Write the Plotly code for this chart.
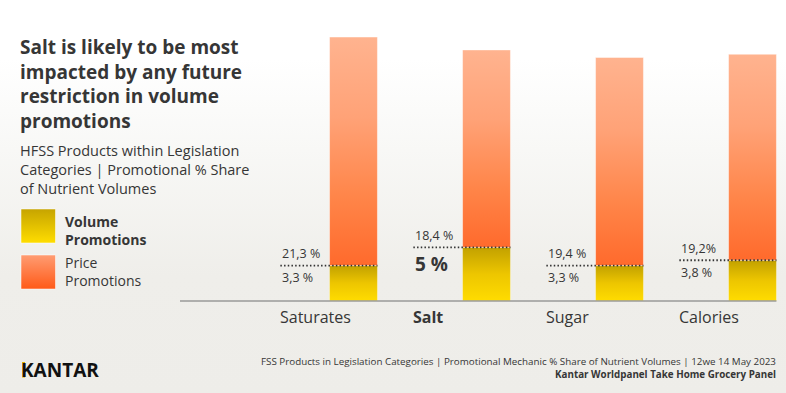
import plotly.graph_objects as go

# ---------------- data ----------------
categories = ["Saturates", "Salt", "Sugar", "Calories"]
volume_share = [3.3, 5.0, 3.3, 3.8]
price_share = [21.3, 18.4, 19.4, 19.2]
volume_labels = ["3,3 %", "5 %", "3,3 %", "3,8 %"]
price_labels = ["21,3 %", "18,4 %", "19,4 %", "19,2%"]
highlight = "Salt"

title_text = "Salt is likely to be most<br>impacted by any future<br>restriction in volume<br>promotions"
subtitle_text = "HFSS Products within Legislation<br>Categories | Promotional % Share<br>of Nutrient Volumes"
legend_names = ["Volume<br>Promotions", "Price<br>Promotions"]
source_line1 = "FSS Products in Legislation Categories | Promotional Mechanic % Share of Nutrient Volumes | 12we 14 May 2023"
source_line2 = "Kantar Worldpanel Take Home Grocery Panel"

# ---------------- layout geometry ----------------
W, H = 786, 393
FONT = "Open Sans"
TXT = "#363636"
UNIT_X = 133.0          # px per category
X0_PX = 353.5           # px of first category centre
BASE_PX = 301.0         # px of zero line
UNIT_Y = 10.73          # px per percentage point
BAR_W = 0.36

x_min = -X0_PX / UNIT_X
x_max = x_min + W / UNIT_X
y_max = BASE_PX / UNIT_Y
y_min = -(H - BASE_PX) / UNIT_Y


def px_x(p):
    return x_min + p / UNIT_X


def px_y(p):
    return (BASE_PX - p) / UNIT_Y


def pap_x(p):
    return p / W


def pap_y(p):
    return 1 - p / H


fig = go.Figure()

# background gradient (white top -> warm grey bottom)
fig.add_trace(go.Scatter(
    x=[x_min, x_max, x_max, x_min, x_min],
    y=[y_min, y_min, y_max, y_max, y_min],
    mode="none", fill="toself", hoverinfo="skip", showlegend=False,
    fillgradient=dict(type="vertical",
                      colorscale=[[0, "#EEEDE9"], [0.3, "#EFEEEA"],
                                  [0.62, "#F8F8F6"], [0.85, "#FFFFFF"], [1, "#FFFFFF"]]),
))

vol_scale = [[0, "#FFDC00"], [0.5, "#EDC600"], [1, "#C2A100"]]
price_scale = [[0, "#FF6A2C"], [0.3, "#FF8549"], [0.65, "#FFA277"], [1, "#FFB38F"]]

for i, cat in enumerate(categories):
    xl, xr = i - BAR_W / 2, i + BAR_W / 2
    v, p = volume_share[i], price_share[i]
    # volume segment
    fig.add_trace(go.Scatter(
        x=[xl, xr, xr, xl, xl], y=[0, 0, v, v, 0],
        mode="lines", line=dict(color="rgba(255,255,255,0.35)", width=1),
        fill="toself", fillgradient=dict(type="vertical", colorscale=vol_scale),
        hoverinfo="skip", showlegend=False,
    ))
    # price segment
    fig.add_trace(go.Scatter(
        x=[xl, xr, xr, xl, xl], y=[v, v, v + p, v + p, v],
        mode="lines", line=dict(color="rgba(255,255,255,0.45)", width=1),
        fill="toself", fillgradient=dict(type="vertical", colorscale=price_scale),
        hoverinfo="skip", showlegend=False,
    ))

# legend swatches drawn on the same axes (decoration)
sw_l, sw_r = px_x(21), px_x(55.5)
fig.add_trace(go.Scatter(
    x=[sw_l, sw_r, sw_r, sw_l, sw_l], y=[px_y(243), px_y(243), px_y(209), px_y(209), px_y(243)],
    mode="lines", line=dict(color="rgba(255,255,255,0.5)", width=1),
    fill="toself", fillgradient=dict(type="vertical", colorscale=[[0, "#FFDD00"], [1, "#C6A400"]]),
    hoverinfo="skip", showlegend=False))
fig.add_trace(go.Scatter(
    x=[sw_l, sw_r, sw_r, sw_l, sw_l], y=[px_y(289), px_y(289), px_y(255), px_y(255), px_y(289)],
    mode="lines", line=dict(color="rgba(255,255,255,0.5)", width=1),
    fill="toself", fillgradient=dict(type="vertical", colorscale=[[0, "#FF5A18"], [1, "#FF9C72"]]),
    hoverinfo="skip", showlegend=False))

shapes = []
# baseline
shapes.append(dict(type="line", xref="x", yref="y", x0=px_x(180), x1=len(categories) - 1 + BAR_W / 2,
                   y0=0, y1=0, line=dict(color="#9A9A98", width=1.5)))
# dotted split lines
for i in range(len(categories)):
    shapes.append(dict(type="line", xref="x", yref="y", x0=i - 0.55, x1=i + BAR_W / 2,
                       y0=volume_share[i], y1=volume_share[i],
                       line=dict(color="#333333", width=1.8, dash="1.5px,2.2px")))
# Kantar logo stem
shapes.append(dict(type="rect", xref="paper", yref="paper", layer="above",
                   x0=pap_x(22), x1=pap_x(25), y0=pap_y(377.5), y1=pap_y(362),
                   fillcolor="#E3B400", line=dict(width=0)))

ann = []
for i, cat in enumerate(categories):
    is_hl = cat == highlight
    ann.append(dict(x=i - 0.565, y=0, xref="x", yref="y", xanchor="left", yanchor="middle",
                    yshift=-16, showarrow=False,
                    text=f"<b>{cat}</b>" if is_hl else cat,
                    font=dict(family=FONT, size=16, color=TXT)))
    ann.append(dict(x=i - 0.555, y=volume_share[i], xref="x", yref="y", xanchor="left",
                    yanchor="middle", yshift=12, showarrow=False, text=price_labels[i],
                    font=dict(family=FONT, size=12.5, color=TXT)))
    ann.append(dict(x=i - 0.555, y=volume_share[i], xref="x", yref="y", xanchor="left",
                    yanchor="middle", yshift=-17 if is_hl else -12, showarrow=False,
                    text=f"<b>{volume_labels[i]}</b>" if is_hl else volume_labels[i],
                    font=dict(family=FONT, size=19 if is_hl else 12.5, color=TXT)))

ann.append(dict(x=pap_x(18), y=pap_y(84), xref="paper", yref="paper", xanchor="left", yanchor="middle",
                align="left", showarrow=False, text=f"<b>{title_text}</b>",
                font=dict(family=FONT, size=19, color=TXT)))
ann.append(dict(x=pap_x(18), y=pap_y(169.5), xref="paper", yref="paper", xanchor="left", yanchor="middle",
                align="left", showarrow=False, text=subtitle_text,
                font=dict(family=FONT, size=14.5, color=TXT)))
ann.append(dict(x=pap_x(63), y=pap_y(230), xref="paper", yref="paper", xanchor="left", yanchor="middle",
                align="left", showarrow=False, text=f"<b>{legend_names[0]}</b>",
                font=dict(family=FONT, size=14, color=TXT)))
ann.append(dict(x=pap_x(63), y=pap_y(271), xref="paper", yref="paper", xanchor="left", yanchor="middle",
                align="left", showarrow=False, text=legend_names[1],
                font=dict(family=FONT, size=14, color=TXT)))
ann.append(dict(x=pap_x(19), y=pap_y(370), xref="paper", yref="paper", xanchor="left", yanchor="middle",
                showarrow=False, text="<b>KANTAR</b>",
                font=dict(family=FONT, size=19, color="#111111")))
ann.append(dict(x=pap_x(778), y=pap_y(368), xref="paper", yref="paper", xanchor="right", yanchor="middle",
                align="right", showarrow=False, text=f"{source_line1}<br><b>{source_line2}</b>",
                font=dict(family=FONT, size=9.8, color=TXT)))

fig.update_layout(
    width=W, height=H, margin=dict(l=0, r=0, t=0, b=0),
    paper_bgcolor="#FFFFFF", plot_bgcolor="rgba(0,0,0,0)",
    xaxis=dict(visible=False, range=[x_min, x_max], fixedrange=True),
    yaxis=dict(visible=False, range=[y_min, y_max], fixedrange=True),
    shapes=shapes, annotations=ann, showlegend=False, hovermode=False,
)

fig.write_html("out.html", config={"displayModeBar": False},
               post_script="document.body.style.margin='0';document.body.style.overflow='hidden';")
